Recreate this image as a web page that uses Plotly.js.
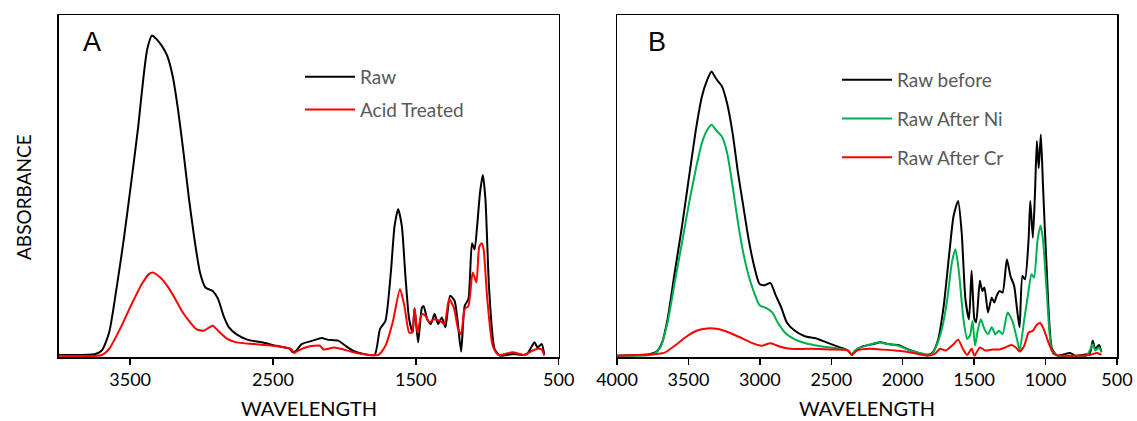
<!DOCTYPE html>
<html>
<head>
<meta charset="utf-8">
<script src="https://cdn.plot.ly/plotly-3.0.1.min.js"></script>
<style>html,body{margin:0;padding:0;background:#fff;}#chart{width:1137px;height:421px;}</style>
</head>
<body>
<div id="chart"></div>
<script>
// ---------- Panel A ----------
const rawA_x = [4000,3749,3698,3647,3596,3545,3495,3444,3406,3380,3347,3317,3279,3240,3202,3164,3126,3088,3049,3011,2973,2922,2884,2846,2808,2757,2681,2579,2477,2388,2362,2337,2299,2222,2158,2120,2044,1993,1942,1866,1789,1751,1713,1675,1649,1624,1598,1573,1547,1522,1509,1484,1458,1446,1420,1395,1369,1344,1318,1293,1260,1229,1209,1183,1158,1132,1107,1089,1071,1051,1031,1013,987,949,911,822,746,720,669,649,619,601];
const rawA_y = [0.2,0.4,1.5,6.8,19.5,34,50,67,82,90,94,93,91,88,82,72,59.5,46,34,24.4,20,19,16.6,11.7,8.3,6.3,4.7,3.9,2.9,2.1,1,1.5,3.4,4.4,5.2,4.7,4.4,2.9,1.5,0.5,0.2,7.8,10.2,24.4,38,43,38,23.4,10.7,6.8,14,3.9,14,14.6,10.7,9.3,12.2,9.3,11.2,8.3,17.6,16.1,10.7,1.2,14.6,16.6,33,31.2,38,47.8,53,46,19.5,2,0,0.5,0.2,0.5,3.9,2.4,3.4,0.2];
const acidA_x = [4000,3698,3647,3571,3495,3418,3367,3342,3291,3240,3189,3139,3088,3037,2986,2922,2884,2820,2757,2630,2503,2375,2350,2324,2248,2171,2146,2070,2006,1917,1764,1713,1662,1611,1580,1547,1527,1509,1489,1458,1433,1407,1369,1331,1300,1267,1234,1204,1183,1158,1132,1102,1076,1056,1038,1025,1000,962,924,822,746,682,644,619,601];
const acidA_y = [0,0.2,2,7.8,14.6,21,24,24.4,23,20.5,17,13.2,10.2,7.8,7.3,8.8,7.3,4.9,3.9,3.4,2.9,2,0.8,1.5,2.7,2.9,1.8,2.4,1.8,0.8,0.2,2.9,9.8,19.5,14.6,6.8,6.8,14,6.8,12.2,11.7,9.8,10.7,10.2,9.3,16.6,14.1,7.8,6.3,13.7,14.6,24.4,21.5,32,33,31,16.6,2.9,0.2,1,0.2,1.5,2,1.8,0];

// ---------- Panel B ----------
const beforeB_x = [4000,3773,3722,3684,3646,3596,3545,3495,3444,3406,3368,3338,3318,3292,3267,3229,3191,3153,3116,3078,3040,3002,2964,2926,2888,2850,2812,2762,2686,2610,2534,2459,2383,2357,2332,2282,2206,2155,2105,2029,1978,1903,1827,1789,1751,1713,1674,1644,1612,1587,1561,1536,1518,1498,1486,1460,1443,1428,1403,1377,1359,1342,1322,1301,1271,1246,1220,1200,1182,1162,1144,1119,1107,1089,1074,1061,1048,1033,1018,993,955,917,829,791,690,670,652,626,609];
const beforeB_y = [0,0.4,1.2,3.9,10.7,24.4,38,52.7,67.3,76,81,83.4,82.1,80.5,79.2,74,65.4,53.7,43.9,34,26.3,21,20.7,21.3,17.6,14.1,9.8,7.5,5.7,5.1,3.9,2.7,1.5,0.2,1.5,2.7,3.4,3.9,3.4,3.1,2.1,1,0.2,1,4.9,14.6,30,41,45.4,36,16.6,10.7,24.9,10.7,9.8,22,19,20,12.7,17,15.6,17.6,19,18.5,28.3,23.4,20.5,13.7,8.3,23.4,22.4,34,45.4,34.6,47.8,63,55,64.9,49.8,26.3,2,0,0.8,0,0.8,4.4,2,3.1,1];
const niB_x = [4000,3747,3697,3646,3596,3545,3495,3444,3406,3368,3338,3305,3267,3229,3191,3153,3116,3078,3040,3002,2951,2913,2876,2825,2762,2661,2560,2459,2383,2357,2319,2256,2168,2105,2029,1966,1877,1801,1764,1726,1688,1656,1631,1606,1575,1549,1529,1511,1494,1473,1453,1428,1403,1377,1352,1327,1301,1266,1233,1200,1182,1149,1124,1098,1081,1056,1035,1018,993,955,917,715,685,670,652,626,609];
const niB_y = [0,0.4,2.4,9.8,21.5,33.2,44.9,55.6,62.4,66.3,67.8,66.1,64.4,59.5,49.8,39,30.2,23.4,18.5,14.8,13.9,12.7,9.8,6.8,4.9,3.4,2.7,2.1,1.5,0.5,2,2.9,3.9,3.4,2.9,1.8,0.7,0.4,2.9,7.8,16.6,27.3,31.2,24.4,10.7,4.9,5.9,10.2,2.9,7.8,10.7,7.8,6.3,8.3,6.3,7.3,6.3,12.7,10.2,4.9,1.5,10.7,17.6,23.9,22.9,34,38.2,34,19.5,1.5,0,0,2,3.4,1.5,2.4,1];
const crB_x = [4000,3747,3671,3596,3520,3444,3368,3292,3216,3141,3065,2989,2926,2863,2787,2661,2509,2383,2357,2319,2231,2155,2054,1953,1827,1776,1738,1700,1650,1612,1579,1549,1518,1498,1460,1422,1372,1322,1284,1241,1208,1182,1149,1119,1089,1063,1038,1013,980,943,892,690,639,609];
const crB_y = [0,0.4,0.8,2.9,5.4,7.3,8,7.8,6.8,5.4,3.9,2.9,3.6,2.7,2,2,1.8,1.5,0.2,1.5,2,1.8,1.5,1,0,0.5,2,1.5,3.1,4.7,2,0.2,2,0,2.4,1.5,1.8,1.8,2.4,3.1,2.4,1.2,2.9,6.8,7.3,9,9.6,7.8,3.9,0.5,0,0.2,0.8,0.2];

const ticksA = [3500,2500,1500,500];
const ticksB = [4000,3500,3000,2500,2000,1500,1000,500];

const W = 1137, H = 421;
const px = v => v / W, py = v => 1 - v / H;
const FONT = 'Lato, "Open Sans", sans-serif';

function ln(x, y, color, name, xa, ya, leg) {
  return {x: x, y: y, type: 'scatter', mode: 'lines', name: name,
    xaxis: xa, yaxis: ya, legend: leg, legendgroup: name,
    line: {color: color, width: 2, shape: 'spline', smoothing: 0.6}};
}

const traces = [
  ln(rawA_x, rawA_y, '#000000', 'Raw', 'x', 'y', 'legend'),
  ln(acidA_x, acidA_y, '#FF0000', 'Acid Treated', 'x', 'y', 'legend'),
  ln(beforeB_x, beforeB_y, '#000000', 'Raw before', 'x2', 'y2', 'legend2'),
  ln(niB_x, niB_y, '#00B050', 'Raw After Ni', 'x2', 'y2', 'legend2'),
  ln(crB_x, crB_y, '#FF0000', 'Raw After Cr', 'x2', 'y2', 'legend2')
];

const domA = [px(58.7), px(558.7)], domB = [px(617), px(1117)];
const domY = [(H - 357) / H, (H - 15) / H];

function xax(dom, ticks, outside, anchor) {
  return {domain: dom, range: [4000, 500], tickvals: ticks, ticktext: ticks.map(String),
    ticks: outside ? 'outside' : 'inside', ticklen: outside ? 6 : 7, tickwidth: 1.5, tickcolor: '#000',
    showticklabels: outside, tickfont: {family: FONT, size: 18, color: '#000'},
    showline: outside, linecolor: '#000', linewidth: 1.5, mirror: outside,
    showgrid: false, zeroline: false, fixedrange: true, anchor: anchor, layer: 'below traces'};
}
function yax(anchor) {
  return {domain: domY, range: [-0.4, 100], showticklabels: false, ticks: '',
    showline: true, mirror: true, linecolor: '#000', linewidth: 1.5,
    showgrid: false, zeroline: false, fixedrange: true, anchor: anchor, layer: 'below traces'};
}
function note(text, x, y, size, family, angle) {
  return {text: text, x: x, y: y, xref: 'paper', yref: 'paper', showarrow: false,
    xanchor: 'center', yanchor: 'middle', textangle: angle || 0,
    font: {family: family, size: size, color: '#000'}};
}
const LEGFONT = {family: FONT, size: 19, color: '#595959'};

const layout = {
  width: W, height: H,
  margin: {l: 0, r: 0, t: 0, b: 0},
  paper_bgcolor: '#fff', plot_bgcolor: '#fff',
  xaxis: xax(domA, ticksA, true, 'y'),
  xaxis2: xax(domB, ticksB, true, 'y2'),
  xaxis3: Object.assign(xax(domA, ticksA, false, 'y'), {overlaying: 'x'}),
  xaxis4: Object.assign(xax(domB, ticksB, false, 'y2'), {overlaying: 'x2'}),
  yaxis: yax('x'),
  yaxis2: yax('x2'),
  showlegend: true,
  legend: {x: px(300), y: py(58), xanchor: 'left', yanchor: 'top', bgcolor: 'rgba(0,0,0,0)',
    font: LEGFONT, tracegroupgap: 5, itemwidth: 50},
  legend2: {x: px(837), y: py(61), xanchor: 'left', yanchor: 'top', bgcolor: 'rgba(0,0,0,0)',
    font: LEGFONT, tracegroupgap: 11, itemwidth: 50},
  annotations: [
    note('A', px(92), py(42), 27, '"Liberation Sans", Arial, sans-serif'),
    note('B', px(657), py(42), 27, '"Liberation Sans", Arial, sans-serif'),
    note('WAVELENGTH', (domA[0] + domA[1]) / 2, py(408), 20, FONT),
    note('WAVELENGTH', (domB[0] + domB[1]) / 2, py(408), 20, FONT),
    note('ABSORBANCE', px(23), py(197), 19, FONT, -90)
  ]
};

Plotly.newPlot('chart', traces, layout, {displayModeBar: false, staticPlot: true});
</script>
</body>
</html>
